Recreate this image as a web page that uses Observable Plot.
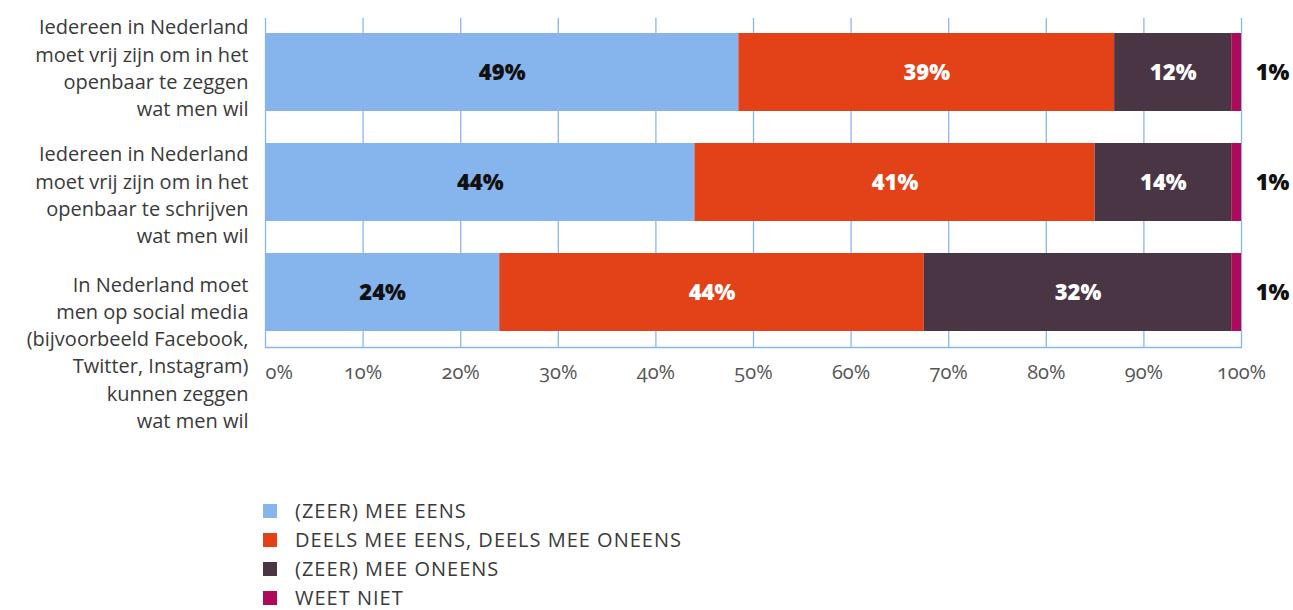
<!DOCTYPE html>
<html>
<head>
<meta charset="utf-8">
<script src="https://cdn.jsdelivr.net/npm/d3@7"></script>
<script src="https://cdn.jsdelivr.net/npm/@observablehq/plot@0.6"></script>
<style>
  body { margin: 0; background: #fff; font-family: "Open Sans", Lato, sans-serif; }
  #chart svg { display: block; }
  .legend { margin-top: 56px; margin-left: 263px; }
  .legend .item { display: flex; align-items: center; height: 29px; font-size: 20px; color: #3a3a3a; letter-spacing: 1px; }
  .legend .sw { width: 14px; height: 14px; margin-right: 18px; flex: none; }
</style>
</head>
<body>
<div id="chart"></div>
<div class="legend" id="legend"></div>
<script>
const categories = [
  "Iedereen in Nederland\nmoet vrij zijn om in het\nopenbaar te zeggen\nwat men wil",
  "Iedereen in Nederland\nmoet vrij zijn om in het\nopenbaar te schrijven\nwat men wil",
  "In Nederland moet\nmen op social media\n(bijvoorbeeld Facebook,\nTwitter, Instagram)\nkunnen zeggen\nwat men wil"
];
const series = ["(ZEER) MEE EENS", "DEELS MEE EENS, DEELS MEE ONEENS", "(ZEER) MEE ONEENS", "WEET NIET"];
const colors = ["#86b4ec", "#e34117", "#4a3545", "#ae0a5b"];
const labelColors = ["#111", "#fff", "#fff", "#111"];
const agree = [48.5, 44, 24];
const partly = [38.5, 41, 43.5];
const disagree = [12, 14, 31.5];
const dontKnow = [1, 1, 1];
const xTicks = [0, 10, 20, 30, 40, 50, 60, 70, 80, 90, 100];

const seriesValues = [agree, partly, disagree, dontKnow];
const data = [];
categories.forEach((c, i) => {
  series.forEach((s, j) => {
    data.push({cat: c, series: s, value: seriesValues[j][i], idx: j});
  });
});
const inside = data.filter(d => d.idx < 3);
const outside = data.filter(d => d.idx === 3);
const fmt = v => Math.round(v) + "%";
const labelOffsets = [-6, 11, 58.5];

const catMarks = categories.map((c, i) => Plot.text([c], {
  x: 0, y: d => d, text: d => d, textAnchor: "end", dx: -17, dy: labelOffsets[i],
  lineHeight: 1.36, fontSize: 20, fill: "#3a3a3a"
}));

const chart = Plot.plot({
  width: 1293,
  height: 440,
  marginLeft: 265,
  marginRight: 52,
  marginTop: 18,
  marginBottom: 93,
  style: {fontFamily: "'Open Sans', Lato, sans-serif", background: "#fff"},
  x: {domain: [0, 100], axis: null, label: null},
  y: {domain: categories, axis: null, paddingInner: 0.29, paddingOuter: 0.14},
  color: {domain: series, range: colors},
  marks: [
    Plot.gridX(xTicks, {stroke: "#8ab6ee", strokeOpacity: 1, strokeWidth: 1.3}),
    Plot.frame({anchor: "bottom", stroke: "#8ab6ee", strokeWidth: 1.3}),
    Plot.barX(data, Plot.stackX({x: "value", y: "cat", fill: "series", order: series})),
    Plot.text(inside, Plot.stackX({
      x: "value", y: "cat", z: "series", order: series,
      text: d => fmt(d.value), fill: d => labelColors[d.idx],
      fontSize: 22, fontWeight: 800
    })),
    Plot.text(outside, {x: 100, y: "cat", text: d => fmt(d.value), dx: 31, fontSize: 22, fontWeight: 800, fill: "#111"}),
    Plot.axisX(xTicks.slice(1), {
      anchor: "bottom", tickSize: 0, tickPadding: 17, fontSize: 20, fill: "#555", label: null,
      tickFormat: d => d + "%"
    }),
    Plot.axisX(xTicks.slice(0, 1), {
      anchor: "bottom", tickSize: 0, tickPadding: 17, fontSize: 20, fill: "#555", label: null,
      textAnchor: "start", tickFormat: d => d + "%"
    }),
    ...catMarks
  ]
});
chart.querySelectorAll('[aria-label="x-axis tick label"] text').forEach(t => t.style.fontVariantNumeric = "oldstyle-nums");
document.getElementById("chart").appendChild(chart);

const legend = document.getElementById("legend");
series.forEach((s, i) => {
  const item = document.createElement("div");
  item.className = "item";
  const sw = document.createElement("span");
  sw.className = "sw";
  sw.style.background = colors[i];
  const lab = document.createElement("span");
  lab.textContent = s;
  item.appendChild(sw);
  item.appendChild(lab);
  legend.appendChild(item);
});
</script>
</body>
</html>
